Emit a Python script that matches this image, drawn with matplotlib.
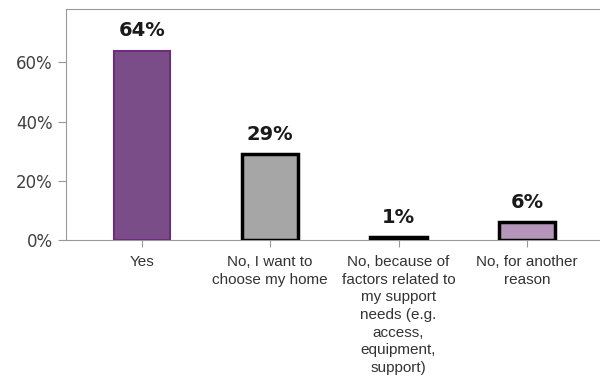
import matplotlib
matplotlib.use('Agg')
import matplotlib.pyplot as plt
from matplotlib.ticker import PercentFormatter

# datos
categorias = ['Yes', 'No, I want to\nchoose my home',
              'No, because of\nfactors related to\nmy support\nneeds (e.g.\naccess,\nequipment,\nsupport)',
              'No, for another\nreason']
valores = [64, 29, 1, 6]
relleno = ['#7b4d88', '#a6a6a6', '#000000', '#b595b9']
bordes = ['#6b2d7c', '#000000', '#000000', '#000000']
grosor = [1.5, 2.5, 2.5, 2.5]

fig = plt.figure(figsize=(6, 3.8), dpi=100)
ax = fig.add_axes([0.11, 0.368, 0.888, 0.608])

x = range(len(valores))
ax.bar(x, valores, width=0.44, color=relleno, edgecolor=bordes, linewidth=grosor, zorder=3)

for i, v in zip(x, valores):
    ax.text(i, v + 3.6, f'{v}%', ha='center', va='bottom', fontsize=14,
            fontweight='bold', color='#1a1a1a', family='DejaVu Sans')

ax.set_xlim(-0.59, 3.56)
ax.set_ylim(0, 78)
ax.set_yticks([0, 20, 40, 60])
ax.yaxis.set_major_formatter(PercentFormatter(decimals=0))
ax.set_xticks(list(x))
ax.set_xticklabels(categorias, fontsize=11, family='Liberation Sans', color='#333333',
                   linespacing=1.32)

for lado in ['left', 'top', 'bottom']:
    ax.spines[lado].set_color('#999999')
ax.spines['right'].set_visible(False)
ax.tick_params(axis='y', colors='#999999', labelcolor='#404040', labelsize=12, length=6)
ax.tick_params(axis='x', colors='#999999', labelcolor='#333333', length=5, pad=6)

plt.savefig('out.png')
